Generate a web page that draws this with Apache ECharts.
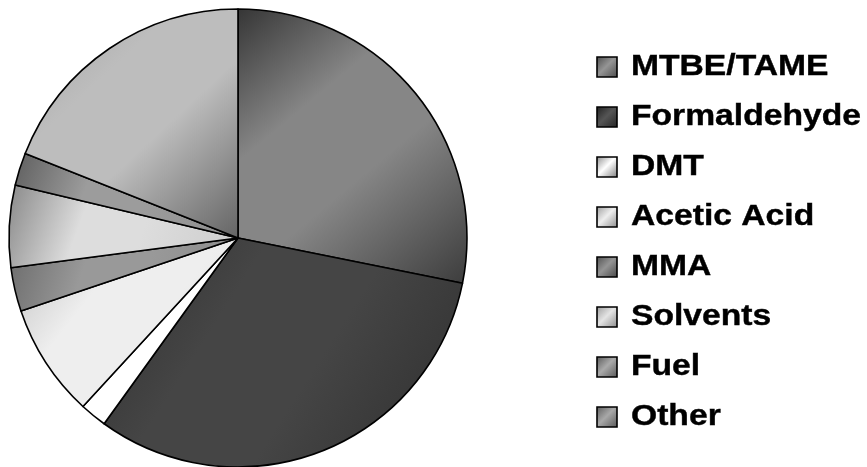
<!DOCTYPE html>
<html>
<head>
<meta charset="utf-8">
<style>
  html, body { margin: 0; padding: 0; background: #fff; }
  #chart { width: 867px; height: 467px; }
</style>
<script src="https://cdn.jsdelivr.net/npm/echarts@6/dist/echarts.min.js"></script>
</head>
<body>
<div id="chart"></div>
<script>
// Methanol end uses, share of demand (%)
const categories = ['MTBE/TAME', 'Formaldehyde', 'DMT', 'Acetic Acid', 'MMA', 'Solvents', 'Fuel', 'Other'];
const shares = [28.2, 31.8, 1.9, 8.0, 3.1, 5.8, 2.3, 19.0];

// Diagonal shading per slice: [corner, centre band, opposite corner]
const shades = [
  ['#353535', '#868686', '#3c3c3c'],
  ['#2e2e2e', '#454545', '#2e2e2e'],
  ['#ffffff', '#ffffff', '#ffffff'],
  ['#c0c0c0', '#eeeeee', '#dcdcdc'],
  ['#6a6a6a', '#999999', '#8a8a8a'],
  ['#888888', '#dddddd', '#cccccc'],
  ['#5e5e5e', '#9c9c9c', '#8e8e8e'],
  ['#a2a2a2', '#bdbdbd', '#646464']
];
const legendShades = [
  ['#4a4a4a', '#959595', '#4a4a4a'],
  ['#1e1e1e', '#555555', '#222222'],
  ['#8a8a8a', '#ffffff', '#7a7a7a'],
  ['#9a9a9a', '#eeeeee', '#8a8a8a'],
  ['#4e4e4e', '#949494', '#444444'],
  ['#999999', '#e4e4e4', '#888888'],
  ['#555555', '#aaaaaa', '#555555'],
  ['#5a5a5a', '#a8a8a8', '#555555']
];

function diag(c, plateau) {
  const stops = plateau
    ? [
        { offset: 0, color: c[0] },
        { offset: 0.33, color: c[1] },
        { offset: 0.58, color: c[1] },
        { offset: 1, color: c[2] }
      ]
    : [
        { offset: 0, color: c[0] },
        { offset: 0.47, color: c[1] },
        { offset: 1, color: c[2] }
      ];
  return new echarts.graphic.LinearGradient(0, 0, 1, 1, stops);
}

const chart = echarts.init(document.getElementById('chart'), null, { renderer: 'canvas' });

// Legend rows drawn beside the pie
const legendItems = [];
categories.forEach((name, i) => {
  const yc = 67 + i * 50;
  legendItems.push({
    type: 'rect',
    shape: { x: 597, y: yc - 10, width: 20, height: 20 },
    style: { fill: diag(legendShades[i], false), stroke: '#000', lineWidth: 1.6 },
    silent: true
  });
  legendItems.push({
    type: 'text',
    x: 631,
    y: yc,
    scaleX: 1.16,
    style: {
      text: name,
      fill: '#000',
      stroke: '#000',
      lineWidth: 0.4,
      font: 'bold 29px "Liberation Sans", Arial, sans-serif',
      textAlign: 'left',
      verticalAlign: 'middle'
    },
    silent: true
  });
});

chart.setOption({
  animation: false,
  backgroundColor: '#ffffff',
  graphic: legendItems,
  series: [{
    type: 'pie',
    center: [238, 238],
    radius: 229,
    startAngle: 90,
    clockwise: true,
    avoidLabelOverlap: false,
    label: { show: false },
    labelLine: { show: false },
    emphasis: { disabled: true },
    itemStyle: { borderColor: '#000000', borderWidth: 1.6 },
    data: categories.map((name, i) => ({
      name: name,
      value: shares[i],
      itemStyle: { color: diag(shades[i], true) }
    }))
  }]
});
</script>
</body>
</html>
